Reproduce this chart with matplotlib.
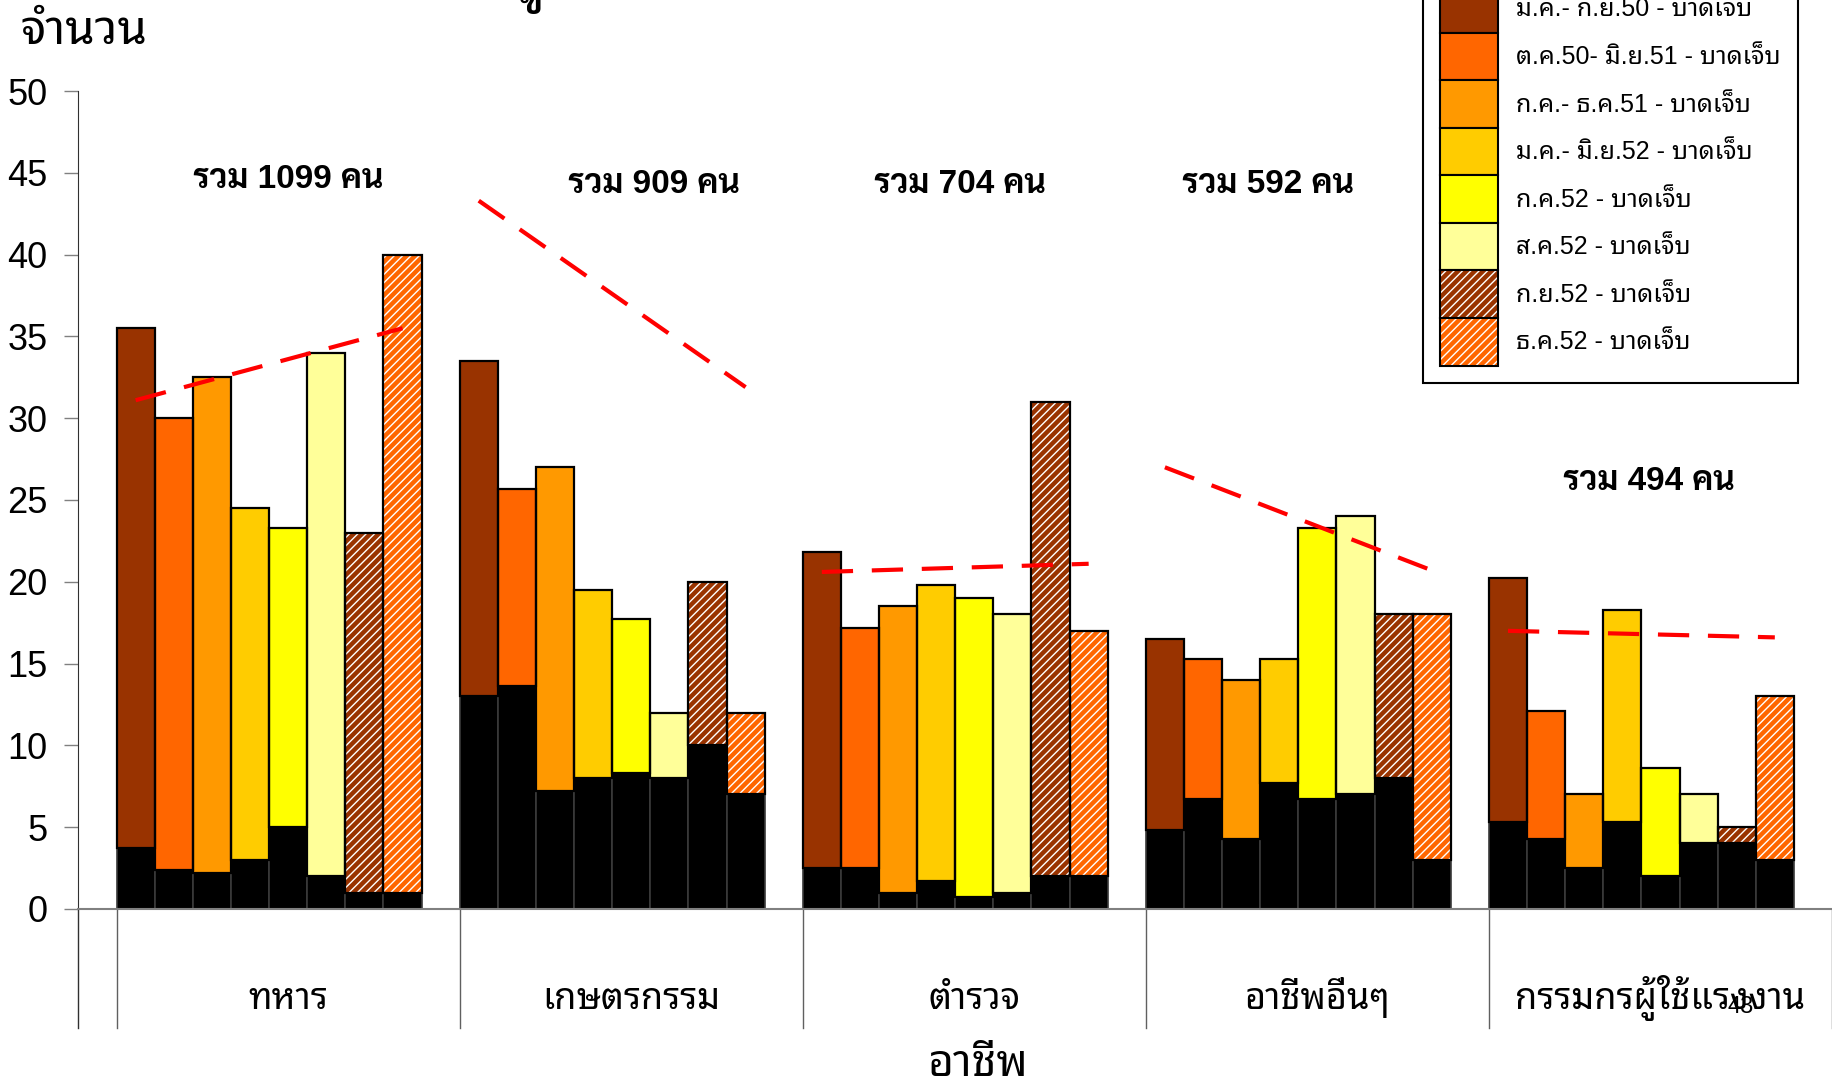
import matplotlib
matplotlib.use("Agg")
import matplotlib.pyplot as plt
from matplotlib.patches import Patch
from matplotlib.legend_handler import HandlerTuple

THAI = ['Liberation Sans', 'Noto Sans Thai Looped', 'Noto Sans Thai', 'DejaVu Sans']
THAI_BOLD = ['Liberation Sans', 'Sarabun', 'Noto Sans Thai Looped', 'Noto Sans Thai', 'DejaVu Sans']
plt.rcParams['font.family'] = THAI
plt.rcParams['hatch.linewidth'] = 1.0

occupations = ['ทหาร', 'เกษตรกรรม', 'ตำรวจ', 'อาชีพอื่นๆ', 'กรรมกรผู้ใช้แรงงาน']
totals = [1099, 909, 704, 592, 494]

periods = ['ม.ค.- ก.ย.50 - บาดเจ็บ', 'ต.ค.50- มิ.ย.51 - บาดเจ็บ', 'ก.ค.- ธ.ค.51 - บาดเจ็บ',
           'ม.ค.- มิ.ย.52 - บาดเจ็บ', 'ก.ค.52 - บาดเจ็บ', 'ส.ค.52 - บาดเจ็บ',
           'ก.ย.52 - บาดเจ็บ', 'ธ.ค.52 - บาดเจ็บ']
colors = ['#993300', '#FF6600', '#FF9900', '#FFCC00', '#FFFF00', '#FFFF99', '#993300', '#FF6600']
hatched = [False, False, False, False, False, False, True, True]

# bar tops (black + injured), one list per period, across occupations
top_p1 = [35.5, 33.5, 21.8, 16.5, 20.2]
top_p2 = [30.0, 25.7, 17.2, 15.3, 12.1]
top_p3 = [32.5, 27.0, 18.5, 14.0, 7.0]
top_p4 = [24.5, 19.5, 19.8, 15.3, 18.3]
top_p5 = [23.3, 17.7, 19.0, 23.3, 8.6]
top_p6 = [34.0, 12.0, 18.0, 24.0, 7.0]
top_p7 = [23.0, 20.0, 31.0, 18.0, 5.0]
top_p8 = [40.0, 12.0, 17.0, 18.0, 13.0]
# black part at the bottom of each bar
black_p1 = [3.7, 13.0, 2.5, 4.8, 5.3]
black_p2 = [2.4, 13.6, 2.5, 6.7, 4.3]
black_p3 = [2.2, 7.2, 1.0, 4.3, 2.5]
black_p4 = [3.0, 8.0, 1.7, 7.7, 5.3]
black_p5 = [5.0, 8.3, 0.7, 6.7, 2.0]
black_p6 = [2.0, 8.0, 1.0, 7.0, 4.0]
black_p7 = [1.0, 10.0, 2.0, 8.0, 4.0]
black_p8 = [1.0, 7.0, 2.0, 3.0, 3.0]

# red dashed trend lines: value at first and last bar of each group
trend_start = [31.1, 43.3, 20.6, 27.0, 17.0]
trend_end = [35.5, 31.9, 21.1, 20.7, 16.6]

tops = [top_p1, top_p2, top_p3, top_p4, top_p5, top_p6, top_p7, top_p8]
blacks = [black_p1, black_p2, black_p3, black_p4, black_p5, black_p6, black_p7, black_p8]

fig = plt.figure(figsize=(18.32, 10.82), dpi=100)
ax = fig.add_axes([0.0426, 0.160, 0.9574, 0.7558])

w = 1.0 / 9
for i in range(8):
    xs = [k + i * w for k in range(5)]
    inj = [t - b for t, b in zip(tops[i], blacks[i])]
    ax.bar(xs, blacks[i], width=w, align='edge', color='black', edgecolor='#3a3a3a', lw=1.2, zorder=2)
    ax.bar(xs, inj, bottom=blacks[i], width=w, align='edge', color=colors[i],
           edgecolor='none', lw=0, zorder=2)
    if hatched[i]:
        ax.bar(xs, inj, bottom=blacks[i], width=w, align='edge', fill=False,
               edgecolor='white', hatch='////', lw=0, zorder=2.1)
    ax.bar(xs, inj, bottom=blacks[i], width=w, align='edge', fill=False,
           edgecolor='black', lw=1.6, zorder=2.2)

for k in range(5):
    ax.plot([k + 0.5 * w, k + 7.5 * w], [trend_start[k], trend_end[k]], color='#FF0000',
            lw=3, dashes=(7.5, 4.5), zorder=3)

# group totals
sum_x = [0.50, 1.567, 2.459, 3.355, 4.465]
sum_y = [44.1, 43.8, 43.8, 43.8, 25.6]
for k in range(5):
    ax.text(sum_x[k], sum_y[k], 'รวม %d คน' % totals[k], ha='center', va='baseline',
            fontsize=24, fontweight='bold', family=THAI_BOLD)

ax.set_xlim(-0.1124, 5.0)
ax.set_ylim(0, 50)
ax.set_yticks(range(0, 51, 5))
ax.set_xticks([])
ax.tick_params(axis='y', labelsize=26, length=10, width=1, color='#808080', pad=12)
for s in ['top', 'right']:
    ax.spines[s].set_visible(False)
ax.spines['left'].set_color('#303030')
ax.spines['bottom'].set_color('#808080')
ax.spines['bottom'].set_linewidth(1.5)

# category table below the axis
tr = ax.get_xaxis_transform()
low = -0.1455
ax.plot([0, 0], [0, low], transform=ax.transAxes, color='#303030', lw=1, clip_on=False)
for k in range(6):
    ax.plot([k, k], [0, low], transform=tr, color='#606060', lw=1, clip_on=False)
for k in range(5):
    ax.text(k + 0.5, -0.123, occupations[k], transform=tr, ha='center', va='baseline', fontsize=26)

fig.text(0.011, 0.970, 'จำนวน', fontsize=34, ha='left', va='center')
fig.text(0.534, 0.006, 'อาชีพ', fontsize=32, ha='center', va='baseline')
fig.text(0.950, 0.069, '43', fontsize=17, ha='center', va='center')
fig.text(0.290, 0.987, 'ข', fontsize=26, fontweight='bold', ha='center', va='baseline',
         family=THAI_BOLD)

handles = []
for i in range(8):
    if hatched[i]:
        handles.append((Patch(facecolor=colors[i], edgecolor='none'),
                        Patch(facecolor='none', edgecolor='white', hatch='////', lw=0),
                        Patch(facecolor='none', edgecolor='black', lw=1.5)))
    else:
        handles.append(Patch(facecolor=colors[i], edgecolor='black', lw=1.5))
leg = fig.legend(handles, periods, loc='lower left', bbox_to_anchor=(0.7765, 0.646),
                 fontsize=18, handleheight=2.55, handlelength=2.3, handletextpad=0.75,
                 labelspacing=0, borderpad=0.7, borderaxespad=0, fancybox=False,
                 framealpha=1, handler_map={tuple: HandlerTuple(ndivide=1, pad=0)})
leg.get_frame().set_edgecolor('black')
leg.get_frame().set_linewidth(1.5)

fig.savefig('out.png', dpi=100)
